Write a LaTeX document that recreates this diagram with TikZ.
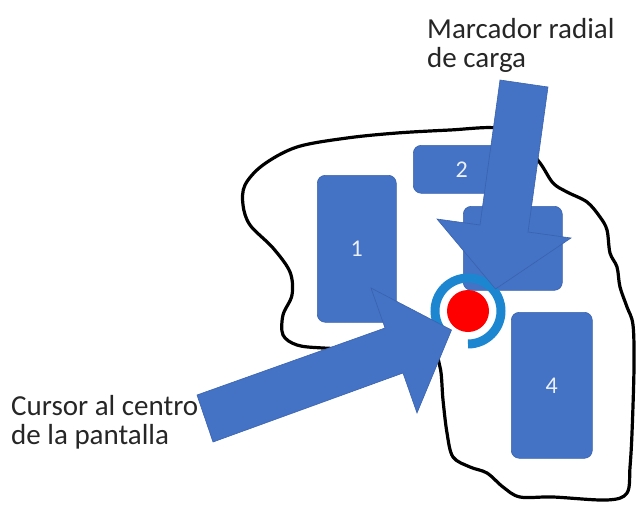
\documentclass[tikz,border=0pt]{standalone}
\usepackage{fontspec}
\setmainfont{Carlito}
\definecolor{shp}{HTML}{4472C4}
\definecolor{shpline}{HTML}{3A63AE}
\definecolor{ringc}{HTML}{1C86D1}
\definecolor{txt}{HTML}{262626}
\begin{document}
\begin{tikzpicture}[x=1pt,y=-1pt,
  block/.style={fill=shp, draw=shpline, line width=0.6pt, rounded corners=8pt, inner sep=0pt, anchor=north west},
  boxlabel/.style={text=white!90!shp, font=\fontsize{24}{28}\selectfont},
  caption/.style={text=txt, font=\fontsize{29}{29}\selectfont, align=left, inner sep=0pt},
  barrow/.style={fill=shp, draw=shpline, line width=0.6pt, line join=miter}]
\useasboundingbox (0,0) rectangle (637,506);
% blob outline
\draw[line width=3.2pt, black, line join=round] plot[smooth cycle, tension=0.55] coordinates {
 (245,185) (263,165) (297,147) (347,138) (397,133) (450,130) (497,128) (520,140)
 (540,163) (553,183) (567,192) (587,202) (600,217) (607,230) (610,253) (617,267)
 (620,287) (627,307) (633,325) (634,367) (632,433) (630,467) (627,493) (607,500)
 (553,497) (520,497) (503,487) (487,473) (470,467) (453,457) (447,433) (443,400)
 (440,367) (430,352) (380,350) (323,348) (297,345) (283,335) (283,315) (292,295)
 (290,272) (273,248) (250,225) (243,205)};
% boxes
\node[block, boxlabel, minimum width=79pt, minimum height=147pt] (b1) at (317,175) {1};
\node[block, boxlabel, minimum width=97pt, minimum height=48pt] (b2) at (413,145) {2};
\node[block, minimum width=99pt, minimum height=84pt] (b3) at (463,206) {};
\node[block, boxlabel, minimum width=81pt, minimum height=146pt] (b4) at (511,312) {4};
% cursor and radial marker
\node[circle, fill=red, minimum size=42pt, inner sep=0pt] (cur) at (468,311) {};
\draw[ringc, line width=9pt] ([shift={(-90:33pt)}]cur.center) arc[start angle=-90, end angle=210, radius=33pt];
% block arrows
\coordinate (mt1) at (500,80);
\coordinate (mt2) at (548,87);
\draw[barrow] (mt1) -- (480,225) -- (437,219) -- (495.5,289) -- (571,238) -- (528,232) -- (mt2) -- cycle;
\coordinate (ct1) at (197,395);
\coordinate (ct2) at (213,442);
\draw[barrow] (ct1) -- (385,328) -- (371,288) -- (451.5,330) -- (417,413) -- (403,373) -- (ct2) -- cycle;
% captions
\node[caption, anchor=base west] (lblM) at (427,67) {Marcador radial\\de carga};
\node[caption, anchor=base west] (lblC) at (11,444) {Cursor al centro\\de la pantalla};
\end{tikzpicture}
\end{document}
